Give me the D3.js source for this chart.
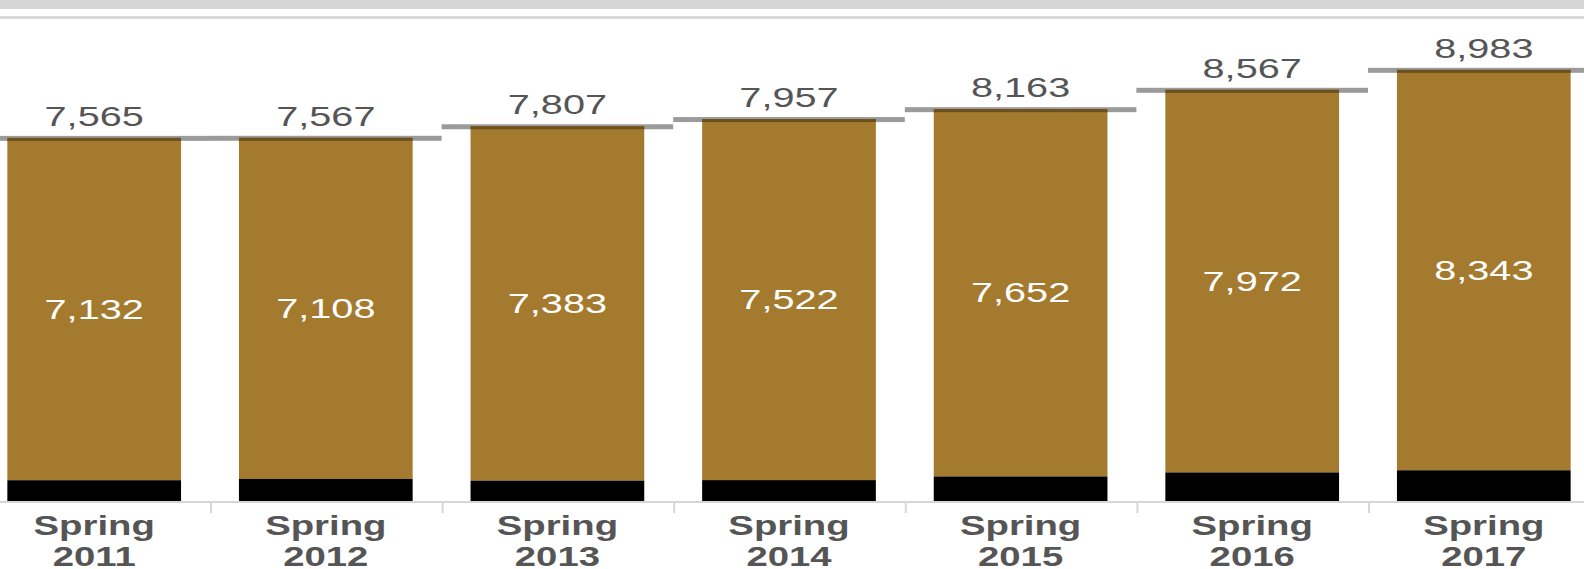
<!DOCTYPE html>
<html>
<head>
<meta charset="utf-8">
<script src="https://cdnjs.cloudflare.com/ajax/libs/d3/7.8.5/d3.min.js"></script>
<style>
  body { margin: 0; background: #fff; }
  svg { display: block; }
  text { font-family: "Liberation Sans", Arial, sans-serif; }
</style>
</head>
<body>
<svg id="svg1" width="1584" height="569"></svg>
<script>
// data
var terms = ['Spring 2011', 'Spring 2012', 'Spring 2013', 'Spring 2014', 'Spring 2015', 'Spring 2016', 'Spring 2017'];
var totals = [7565, 7567, 7807, 7957, 8163, 8567, 8983];
var goldValues = [7132, 7108, 7383, 7522, 7652, 7972, 8343];

var width = 1584;
var height = 569;

var svg = d3.select('#svg1');

var fmt = d3.format(',');

var rows = terms.map(function(t, i){
    return {term: t, total: totals[i], gold: goldValues[i], other: totals[i] - goldValues[i]};
});

// the picture is a crop, so the band range runs past both edges
var x = d3.scaleBand()
    .domain(terms)
    .range([-21.6, 1599.6])
    .paddingInner(0.25)
    .paddingOuter(0.125);

var y = d3.scaleLinear()
    .domain([0, 10000])
    .range([501, 21]);

var step = x.step();
function cellStart(d){ return x(d.term) - step * 0.125; }

// header strips at the top
svg.append('rect').attr('x', 0).attr('y', 0).attr('width', width).attr('height', 9).attr('fill', '#d6d6d6');
svg.append('rect').attr('x', 0).attr('y', 16).attr('width', width).attr('height', 3).attr('fill', '#d9d9d9');

// total reference lines, one per cell
svg.selectAll('rect.ref')
    .data(rows)
    .enter()
    .append('rect')
    .attr('class', 'ref')
    .attr('x', cellStart)
    .attr('width', step)
    .attr('y', function(d){ return y(d.total) - 2; })
    .attr('height', 5)
    .attr('fill', '#9b9b9b');

// gold segment
svg.selectAll('rect.gold')
    .data(rows)
    .enter()
    .append('rect')
    .attr('class', 'gold')
    .attr('x', function(d){ return x(d.term); })
    .attr('width', x.bandwidth())
    .attr('y', function(d){ return y(d.total); })
    .attr('height', function(d){ return y(d.other) - y(d.total); })
    .attr('fill', '#a47a2e');

// black segment at the bottom
svg.selectAll('rect.other')
    .data(rows)
    .enter()
    .append('rect')
    .attr('class', 'other')
    .attr('x', function(d){ return x(d.term); })
    .attr('width', x.bandwidth())
    .attr('y', function(d){ return y(d.other); })
    .attr('height', function(d){ return y(0) - y(d.other); })
    .attr('fill', '#000');

// where the reference line crosses the bar it shows darker
svg.selectAll('rect.edge')
    .data(rows)
    .enter()
    .append('rect')
    .attr('class', 'edge')
    .attr('x', function(d){ return x(d.term); })
    .attr('width', x.bandwidth())
    .attr('y', function(d){ return y(d.total); })
    .attr('height', 3)
    .attr('fill', '#6b4f1f');

// axis baseline and cell dividers
svg.append('rect').attr('x', 0).attr('y', y(0)).attr('width', width).attr('height', 2).attr('fill', '#d6d6d6');
svg.selectAll('rect.tick')
    .data(rows.slice(1))
    .enter()
    .append('rect')
    .attr('class', 'tick')
    .attr('x', cellStart)
    .attr('y', y(0) + 2)
    .attr('width', 2)
    .attr('height', 10)
    .attr('fill', '#d6d6d6');

// total labels above
svg.selectAll('text.total')
    .data(rows)
    .enter()
    .append('text')
    .attr('class', 'total')
    .attr('transform', function(d){
        return 'translate(' + (x(d.term) + x.bandwidth() / 2) + ',' + (y(d.total) - 12) + ') scale(1.47,1)';
    })
    .attr('text-anchor', 'middle')
    .attr('font-size', 27)
    .attr('fill', '#555')
    .text(function(d){ return fmt(d.total); });

// gold labels inside
svg.selectAll('text.goldlab')
    .data(rows)
    .enter()
    .append('text')
    .attr('class', 'goldlab')
    .attr('transform', function(d){
        var mid = (y(d.total) + y(d.other)) / 2;
        return 'translate(' + (x(d.term) + x.bandwidth() / 2) + ',' + (mid + 9.5) + ') scale(1.47,1)';
    })
    .attr('text-anchor', 'middle')
    .attr('font-size', 27)
    .attr('fill', '#fff')
    .text(function(d){ return fmt(d.gold); });

// category labels, two lines
var cat = svg.selectAll('text.cat')
    .data(rows)
    .enter()
    .append('text')
    .attr('class', 'cat')
    .attr('transform', function(d){
        return 'translate(' + (x(d.term) + x.bandwidth() / 2) + ',0) scale(1.42,1)';
    })
    .attr('text-anchor', 'middle')
    .attr('font-size', 27)
    .attr('font-weight', 'bold')
    .attr('fill', '#555');

cat.append('tspan').attr('x', 0).attr('y', 535).text(function(d){ return d.term.split(' ')[0]; });
cat.append('tspan').attr('x', 0).attr('y', 566).text(function(d){ return d.term.split(' ')[1]; });
</script>
</body>
</html>
